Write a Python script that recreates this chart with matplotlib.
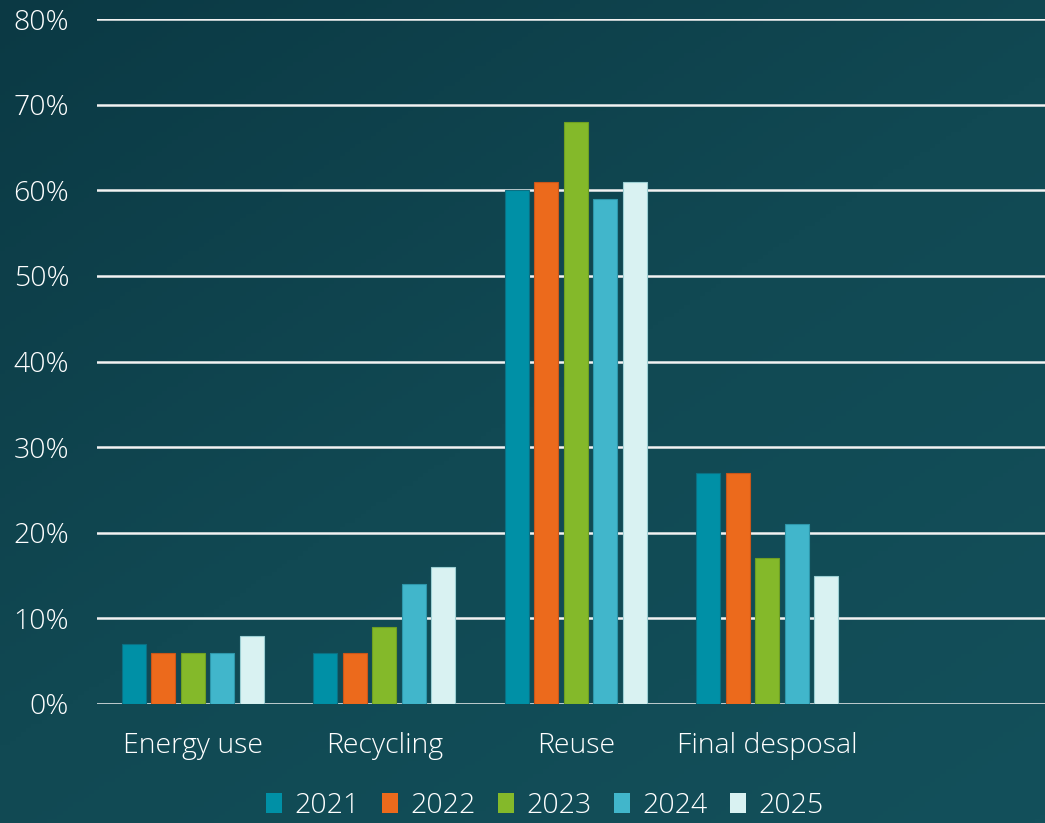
import numpy as np
import matplotlib.pyplot as plt
from matplotlib.colors import LinearSegmentedColormap

plt.rcParams['font.family'] = ['Open Sans', 'DejaVu Sans']
plt.rcParams['font.weight'] = 'light'

# data
categories = ['Energy use', 'Recycling', 'Reuse', 'Final desposal']
years = ['2021', '2022', '2023', '2024', '2025']
v2021 = [7, 6, 60, 27]
v2022 = [6, 6, 61, 27]
v2023 = [6, 9, 68, 17]
v2024 = [6, 14, 59, 21]
v2025 = [8, 16, 61, 15]
series = [v2021, v2022, v2023, v2024, v2025]
colors = ['#0090A6', '#EC6A1C', '#84B92A', '#41B6CB', '#D9F2F2']
edges = ['#0B6F82', '#C9561A', '#6E9F22', '#2E96AA', '#9CCFD3']

fig = plt.figure(figsize=(10.45, 8.23), dpi=100)

# background gradient
bg = fig.add_axes([0, 0, 1, 1], zorder=-10)
bg.axis('off')
cmap = LinearSegmentedColormap.from_list('bg', ['#0B3944', '#114953', '#13505B'])
yy, xx = np.mgrid[0:1:200j, 0:1:200j]
grad = 0.55 * yy + 0.45 * xx
bg.imshow(grad, cmap=cmap, aspect='auto', extent=[0, 1, 0, 1], origin='upper')

ax = fig.add_axes([97 / 1045, (823 - 704) / 823, 1 - 97 / 1045, (704 - 19) / 823])
ax.patch.set_alpha(0)

x = np.arange(len(categories))
step = 0.154
width = 0.125
for i, (vals, c, ec, yr) in enumerate(zip(series, colors, edges, years)):
    ax.bar(x + (i - 2) * step, vals, width, color=c, edgecolor=ec, linewidth=0.8,
           label=yr, zorder=3)

ax.set_ylim(0, 80)
ax.set_xlim(-0.5, 4.45)
ax.set_yticks(range(0, 81, 10))
ax.set_yticklabels([f'{v}%' for v in range(0, 81, 10)])
ax.set_xticks(x)
ax.set_xticklabels(categories)
ax.yaxis.grid(True, color='#F2F2F2', linewidth=1.8, zorder=1)
ax.set_axisbelow(True)
for s in ax.spines.values():
    s.set_visible(False)
ax.tick_params(axis='both', length=0, colors='white', labelsize=20.5)
ax.tick_params(axis='y', pad=20)
ax.tick_params(axis='x', pad=20)

leg = fig.legend(loc='center', bbox_to_anchor=(545 / 1045, 1 - 806 / 823), ncol=5,
                 frameon=False, fontsize=20.5, labelcolor='white',
                 handlelength=0.55, handleheight=0.7, handletextpad=0.45,
                 columnspacing=0.78)
for h in leg.legend_handles:
    h.set_linewidth(0)

fig.savefig('out.png', dpi=100)
